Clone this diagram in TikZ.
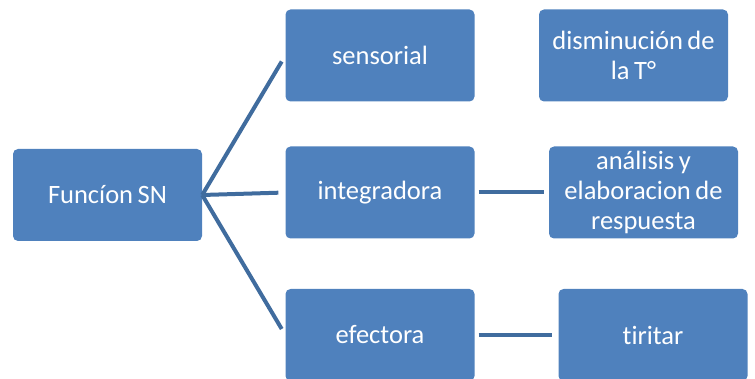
\documentclass[tikz,border=0pt]{standalone}
\usepackage{fontspec}
\setmainfont[Ligatures=NoCommon,WordSpace=0.75]{Carlito}
\definecolor{boxfill}{RGB}{79,129,189}
\definecolor{linecol}{RGB}{64,108,158}
\begin{document}
\begin{tikzpicture}[x=1pt,y=-1pt,
  box/.style={fill=boxfill,rounded corners=5pt,minimum width=189pt,minimum height=92pt,
    text=white,align=center,inner sep=0pt,font=\fontsize{26.5}{30}\selectfont},
  conn/.style={draw=linecol,line width=4pt}]
\useasboundingbox (0,0) rectangle (755,379);
\node[box] (fn) at (107.5,195) {Funcíon SN};
\node[box] (sens) at (380,55.5) {sensorial};
\node[box] (dism) at (633.5,55.5) {disminución de\\la T°};
\node[box] (integ) at (380,192.5) {integradora};
\node[box] (anal) at (643.5,192.5) {análisis y\\elaboracion de\\respuesta};
\node[box] (efec) at (380,335) {efectora};
\node[box] (tir) at (653,335) {tiritar};
\draw[conn,shorten >=7pt] (fn.east) -- (sens.west);
\draw[conn,shorten >=7pt] (fn.east) -- (integ.west);
\draw[conn,shorten >=7pt] (fn.east) -- (efec.west);
\draw[conn,shorten <=4pt,shorten >=5pt] (integ.east) -- (anal.west);
\draw[conn,shorten <=4pt,shorten >=6pt] (efec.east) -- (tir.west);
\end{tikzpicture}
\end{document}
